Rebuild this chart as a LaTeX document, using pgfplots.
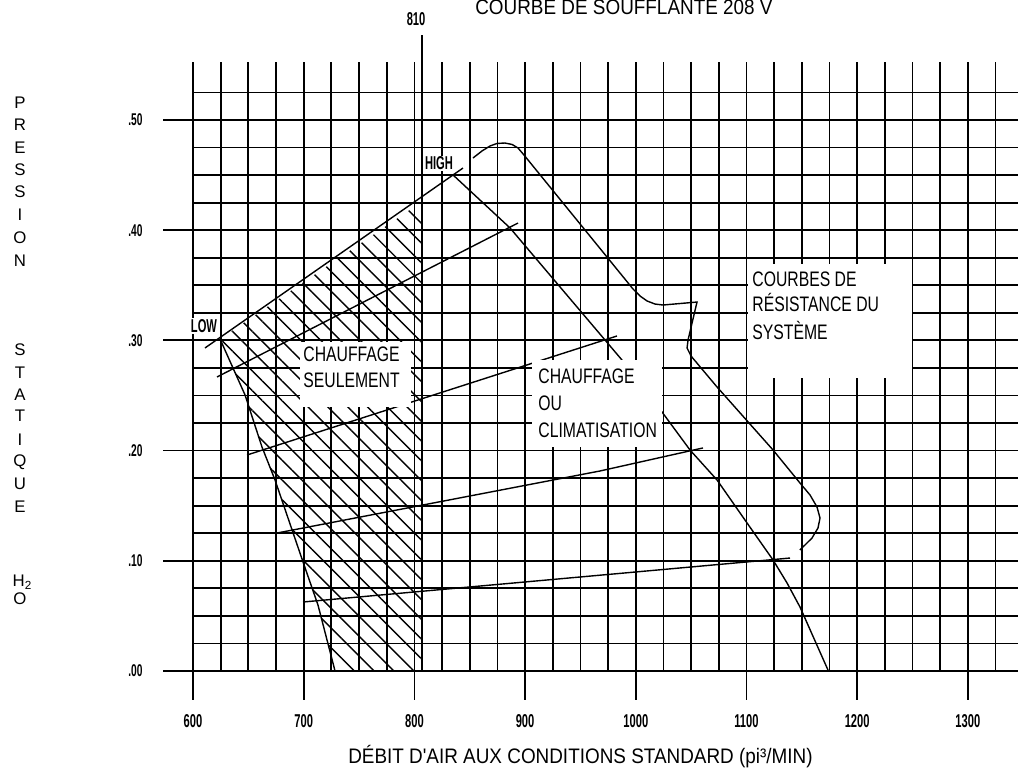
\documentclass[border=0pt]{standalone}
\usepackage{fontspec}
\setmainfont{Liberation Sans}
\newfontfamily\wideF[FakeStretch=0.9]{Liberation Sans}
\newfontfamily\boxF[FakeStretch=0.75]{Liberation Sans}
\newfontfamily\tickF[FakeStretch=0.6]{Liberation Sans}
\usepackage{pgfplots}
\pgfplotsset{compat=1.18}
\usetikzlibrary{patterns.meta}

\tikzset{
  gridl/.style={black, line width=0.9bp},
  curve/.style={black, line width=0.7bp},
  boxtxt/.style={anchor=base west, inner sep=0pt, font=\boxF\fontsize{10.5bp}{12bp}\selectfont},
  tickx/.style={anchor=center, inner sep=0pt, font=\tickF\bfseries\fontsize{9.3bp}{11bp}\selectfont},
  ticky/.style={anchor=east, inner sep=0pt, font=\tickF\bfseries\fontsize{8.5bp}{10bp}\selectfont},
  ylet/.style={anchor=center, inner sep=0pt, font=\fontsize{8.4bp}{10bp}\selectfont},
}

\begin{document}
\begin{tikzpicture}
\useasboundingbox (0,0) rectangle (509bp,386bp);
\clip (0,0) rectangle (509bp,386bp);
\begin{axis}[
  at={(0,0)}, anchor=south west,
  x=0.5535bp, y=551bp,
  xmin=425.655, xmax=1345.258,
  ymin=-0.091652, ymax=0.608893,
  enlargelimits=false,
  hide axis, clip=false,
]
% grid
\pgfplotsinvokeforeach{600,625,...,1325}{
  \draw[gridl] (axis cs:#1,0) -- (axis cs:#1,0.5526);
}
\pgfplotsinvokeforeach{600,700,...,1300}{
  \draw[gridl] (axis cs:#1,-0.026) -- (axis cs:#1,0);
}
\pgfplotsinvokeforeach{0,0.025,0.05,0.075,0.1,0.125,0.15,0.175,0.2,0.225,0.25,0.275,0.3,0.325,0.35,0.375,0.4,0.425,0.45,0.475,0.5,0.525}{
  \draw[gridl] (axis cs:600,#1) -- (axis cs:1345.3,#1);
}
\pgfplotsinvokeforeach{0,0.1,0.2,0.3,0.4,0.5}{
  \draw[gridl] (axis cs:572.9,#1) -- (axis cs:600,#1);
}
\draw[gridl] (axis cs:807,0) -- (axis cs:807,0.577);

% hatched zone (chauffage seulement)
\addplot[draw=none, pattern={Lines[angle=-45,distance=7bp,line width=0.7bp]}] coordinates {
  (624.4,0.3013) (807,0.426) (807,0) (728.3,0) (712.9,0.0599) (699.4,0.0989)
  (674.1,0.1733) (662.3,0.2033) (647.0,0.2505)
} -- cycle;

% LOW / HIGH envelope
\addplot[curve] coordinates {(610.8,0.2931) (843.9,0.4564)};
% LOW speed curve
\addplot[curve] coordinates {
  (624.4,0.3013) (647.0,0.2505) (662.3,0.2033) (674.1,0.1733)
  (699.4,0.0989) (712.9,0.0599) (728.3,0.0)
};
% HIGH speed curve
\addplot[curve] coordinates {
  (834.9,0.4501) (886.4,0.4020) (987.5,0.2822) (1023.7,0.2350) (1049.0,0.2005)
  (1073.4,0.1733) (1100.5,0.1343) (1124.0,0.1007) (1136.6,0.0799)
  (1148.3,0.0581) (1173.6,0.0009)
};
% outer curve
\addplot[curve] coordinates {
  (852.9,0.4655) (861.1,0.4719) (868.3,0.4764) (874.6,0.4787) (881.8,0.4791)
  (888.2,0.4778) (893.6,0.4746) (899.0,0.4682) (997.5,0.3466) (1003.8,0.3403)
  (1010.1,0.3358) (1017.3,0.3330) (1024.6,0.3321) (1055.3,0.3348)
  (1047.2,0.3004) (1046.3,0.2931) (1049.9,0.2858) (1073.4,0.2577)
  (1124.0,0.2005) (1148.3,0.1706) (1157.4,0.1597) (1163.7,0.1488)
  (1166.4,0.1388) (1164.6,0.1298) (1159.2,0.1207) (1148.3,0.1098)
};
% system resistance curves
\addplot[curve] coordinates {(621.7,0.2668) (893.6,0.4065)};
\addplot[curve] coordinates {(648.8,0.1960) (983.0,0.3040)};
\addplot[curve] coordinates {(675.9,0.1252) (967.7,0.1815) (1060.7,0.2024)};
\addplot[curve] coordinates {(699.4,0.0626) (1139.3,0.1025)};

% white label boxes
\fill[white] (axis cs:696.7,0.2400) rectangle (axis cs:796.5,0.2985);
\fill[white] (axis cs:906.2,0.2032) rectangle (axis cs:1023.7,0.2822);
\fill[white] (axis cs:1101.4,0.2659) rectangle (axis cs:1249.5,0.3693);

\node[boxtxt] at (axis cs:699.4,0.2804) {CHAUFFAGE};
\node[boxtxt] at (axis cs:699.4,0.2577) {SEULEMENT};
\node[boxtxt] at (axis cs:911.7,0.2613) {CHAUFFAGE};
\node[boxtxt] at (axis cs:911.7,0.2368) {OU};
\node[boxtxt] at (axis cs:911.7,0.2123) {CLIMATISATION};
\node[boxtxt] at (axis cs:1105.0,0.3485) {COURBES DE};
\node[boxtxt] at (axis cs:1105.0,0.3258) {RÉSISTANCE DU};
\node[boxtxt] at (axis cs:1105.0,0.3004) {SYSTÈME};

\node[tickx, fill=white, inner sep=0.6bp] at (axis cs:609.9,0.3131) {LOW};
\node[tickx, fill=white, inner sep=0.6bp] at (axis cs:822.2,0.4605) {HIGH};
\node[tickx] at (axis cs:801.5,0.5917) {810};

% title and axis label
\node[anchor=base, font=\wideF\fontsize{10.5bp}{12bp}\selectfont] at (axis cs:989.3,0.5955) {COURBE DE SOUFFLANTE 208 V};
\node[anchor=base, font=\wideF\fontsize{10.5bp}{12bp}\selectfont] at (axis cs:950,-0.0835) {DÉBIT D'AIR AUX CONDITIONS STANDARD (pi³/MIN)};

% tick labels
\pgfplotsinvokeforeach{600,700,...,1300}{
  \node[tickx] at (axis cs:#1,-0.0454) {#1};
}
\node[ticky] at (axis cs:554.8,0.0) {.00};
\node[ticky] at (axis cs:554.8,0.1) {.10};
\node[ticky] at (axis cs:554.8,0.2) {.20};
\node[ticky] at (axis cs:554.8,0.3) {.30};
\node[ticky] at (axis cs:554.8,0.4) {.40};
\node[ticky] at (axis cs:554.8,0.5) {.50};

% vertical axis title, one letter per line
\node[ylet] at (axis cs:443.7,0.5154) {P};
\node[ylet] at (axis cs:443.7,0.4955) {R};
\node[ylet] at (axis cs:443.7,0.4746) {E};
\node[ylet] at (axis cs:443.7,0.4546) {S};
\node[ylet] at (axis cs:443.7,0.4347) {S};
\node[ylet] at (axis cs:443.7,0.4138) {I};
\node[ylet] at (axis cs:443.7,0.3929) {O};
\node[ylet] at (axis cs:443.7,0.3721) {N};
\node[ylet] at (axis cs:443.7,0.2913) {S};
\node[ylet] at (axis cs:443.7,0.2704) {T};
\node[ylet] at (axis cs:443.7,0.2505) {A};
\node[ylet] at (axis cs:443.7,0.2314) {T};
\node[ylet] at (axis cs:443.7,0.2096) {I};
\node[ylet] at (axis cs:443.7,0.1897) {Q};
\node[ylet] at (axis cs:443.7,0.1697) {U};
\node[ylet] at (axis cs:443.7,0.1488) {E};
\node[ylet] at (axis cs:446.0,0.0808) {H\textsubscript{2}};
\node[ylet] at (axis cs:443.7,0.0653) {O};
\end{axis}
\end{tikzpicture}
\end{document}
